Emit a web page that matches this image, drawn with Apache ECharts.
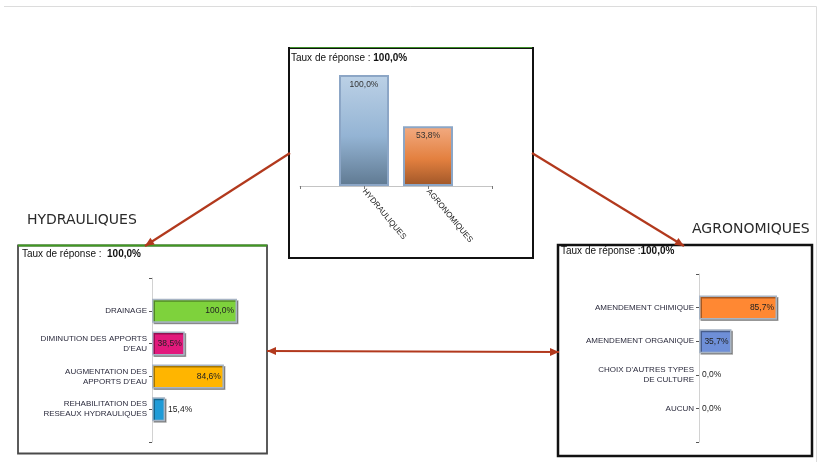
<!DOCTYPE html>
<html>
<head>
<meta charset="utf-8">
<script src="https://cdn.jsdelivr.net/npm/echarts@6/dist/echarts.min.js"></script>
<style>
  html, body { margin: 0; padding: 0; background: #fff; }
  #chart { width: 819px; height: 462px; }
</style>
</head>
<body>
<div id="chart"></div>
<script>
// données
const topCategories = ['HYDRAULIQUES', 'AGRONOMIQUES']
const topValues = [100.0, 53.8]
const hydroCategories = ['DRAINAGE', "DIMINUTION DES APPORTS\nD'EAU", "AUGMENTATION DES\nAPPORTS D'EAU", 'REHABILITATION DES\nRESEAUX HYDRAULIQUES']
const hydroValues = [100.0, 38.5, 84.6, 15.4]
const agroCategories = ['AMENDEMENT CHIMIQUE', 'AMENDEMENT ORGANIQUE', "CHOIX D'AUTRES TYPES\nDE CULTURE", 'AUCUN']
const agroValues = [85.7, 35.7, 0.0, 0.0]
const responseRate = '100,0%'

const hydroColors = ['#7ed23c', '#e2197c', '#ffb500', '#1f9bd7']
const agroColors = ['#ff8833', '#6e8fd8', '#999999', '#999999']
const arrowColor = '#b2391d'

const fmt = (v) => v.toFixed(1).replace('.', ',') + '%'
const pad = (arr) => ['', ...arr, '']

const chart = echarts.init(document.getElementById('chart'))

// barres verticales du haut (dégradé)
const topGradients = [
  ['#bcd1e6', '#94b4d4', '#5f7991'],
  ['#f2ab82', '#e3803f', '#9f5628']
]
const topData = ['-'].concat(topValues.map((v, i) => ({
  value: v,
  itemStyle: {
    color: new echarts.graphic.LinearGradient(0, 0, 0, 1, [
      { offset: 0, color: topGradients[i][0] },
      { offset: 0.55, color: topGradients[i][1] },
      { offset: 1, color: topGradients[i][2] }
    ]),
    borderColor: '#8ca6c6',
    borderWidth: 2
  }
}))).concat(['-'])

const barStyle = {
  borderColor: '#a7b4c4',
  borderWidth: 1.5,
  shadowColor: 'rgba(0,0,0,0.35)',
  shadowOffsetX: 1.5,
  shadowOffsetY: 1.5
}

const hbarData = (values, colors) => ['-'].concat(values.map((v, i) => ({
  value: v,
  itemStyle: v > 0 ? { color: colors[i] } : { color: 'transparent', borderWidth: 0, shadowColor: 'transparent' },
  label: { position: v < 20 ? 'right' : 'insideRight', distance: 3 }
}))).concat(['-'])

const hAxisY = (cats, idx) => ({
  type: 'category',
  gridIndex: idx,
  inverse: true,
  boundaryGap: false,
  data: pad(cats),
  axisLine: { lineStyle: { color: '#d2d2d2', width: 1 } },
  axisTick: { length: 3, lineStyle: { color: '#555' } },
  axisLabel: {
    interval: 0, fontSize: 8, lineHeight: 10, margin: 5,
    color: '#2a2a3c', fontFamily: 'Liberation Sans', align: 'right'
  }
})

// flèches
const arrow = (x1, y1, x2, y2, both) => {
  const a = Math.atan2(y2 - y1, x2 - x1)
  const head = (x, y, ang) => {
    const L = 9, W = 4
    const bx = x - L * Math.cos(ang), by = y - L * Math.sin(ang)
    return {
      type: 'polygon',
      shape: { points: [[x, y], [bx + W * Math.sin(ang), by - W * Math.cos(ang)], [bx - W * Math.sin(ang), by + W * Math.cos(ang)]] },
      style: { fill: arrowColor }
    }
  }
  const out = [{
    type: 'line',
    shape: { x1, y1, x2, y2 },
    style: { stroke: arrowColor, lineWidth: 2.2 }
  }, head(x2, y2, a)]
  if (both) out.push(head(x1, y1, a + Math.PI))
  return out
}

const titleRich = {
  a: { fontSize: 10, color: '#111', fontWeight: 'normal', fontFamily: 'Liberation Sans' },
  b: { fontSize: 10, color: '#111', fontWeight: 'bold', fontFamily: 'Liberation Sans' }
}
const titleStyle = { fontWeight: 'normal', rich: titleRich }

chart.setOption({
  animation: false,
  backgroundColor: '#fff',
  title: [
    { text: '{a|Taux de réponse : }{b|' + responseRate + '}', left: 291, top: 53, padding: 0, textStyle: titleStyle },
    { text: '{a|Taux de réponse :  }{b|' + responseRate + '}', left: 22, top: 249, padding: 0, textStyle: titleStyle },
    { text: '{a|Taux de réponse :}{b|' + responseRate + '}', left: 561, top: 246, padding: 0, textStyle: titleStyle },
    { text: 'HYDRAULIQUES', left: 27, top: 213, padding: 0, textStyle: { fontSize: 14, fontWeight: 'normal', color: '#2a2a2a', fontFamily: 'DejaVu Sans' } },
    { text: 'AGRONOMIQUES', left: 692, top: 222, padding: 0, textStyle: { fontSize: 14, fontWeight: 'normal', color: '#2a2a2a', fontFamily: 'DejaVu Sans' } }
  ],
  grid: [
    { left: 300, top: 75, width: 192, height: 111 },
    { left: 152, top: 278, width: 85, height: 164 },
    { left: 699, top: 274, width: 91, height: 168 }
  ],
  xAxis: [
    {
      type: 'category', gridIndex: 0, boundaryGap: false, data: pad(topCategories),
      axisLine: { lineStyle: { color: '#c4c4c4' } },
      axisTick: { length: 3, lineStyle: { color: '#777' } },
      axisLabel: { interval: 0, rotate: -50, fontSize: 8, margin: 4, color: '#222', fontFamily: 'Liberation Sans' }
    },
    { type: 'value', gridIndex: 1, min: 0, max: 100, show: false },
    { type: 'value', gridIndex: 2, min: 0, max: 100, show: false }
  ],
  yAxis: [
    { type: 'value', gridIndex: 0, min: 0, max: 100, show: false },
    hAxisY(hydroCategories, 1),
    hAxisY(agroCategories, 2)
  ],
  series: [
    {
      type: 'bar', xAxisIndex: 0, yAxisIndex: 0, barWidth: 50, data: topData,
      label: { show: true, position: 'insideTop', distance: 5, fontSize: 8.5, color: '#333', fontFamily: 'Liberation Sans', formatter: (p) => fmt(p.value) }
    },
    {
      type: 'bar', xAxisIndex: 1, yAxisIndex: 1, barWidth: 24, data: hbarData(hydroValues, hydroColors),
      itemStyle: barStyle,
      label: { show: true, fontSize: 8.5, color: '#222', fontFamily: 'Liberation Sans', formatter: (p) => fmt(p.value) }
    },
    {
      type: 'bar', xAxisIndex: 2, yAxisIndex: 2, barWidth: 24, data: hbarData(agroValues, agroColors),
      itemStyle: barStyle,
      label: { show: true, fontSize: 8.5, color: '#222', fontFamily: 'Liberation Sans', formatter: (p) => fmt(p.value) }
    }
  ],
  graphic: [
    // cadre extérieur
    { type: 'polyline', shape: { points: [[4, 6.5], [816.5, 6.5], [816.5, 462]] }, style: { stroke: '#dcdcdc', lineWidth: 1, fill: null } },
    // cadres des graphiques
    { type: 'rect', shape: { x: 289, y: 48, width: 244, height: 210 }, style: { fill: null, stroke: '#111', lineWidth: 2 } },
    { type: 'line', shape: { x1: 290, y1: 47.5, x2: 532, y2: 47.5 }, style: { stroke: '#3f8f2a', lineWidth: 1 } },
    { type: 'rect', shape: { x: 18, y: 245.5, width: 249, height: 208 }, style: { fill: null, stroke: '#4a4a4a', lineWidth: 1.8 } },
    { type: 'line', shape: { x1: 18, y1: 245.5, x2: 267, y2: 245.5 }, style: { stroke: '#3f9a20', lineWidth: 2 } },
    { type: 'rect', shape: { x: 558, y: 245, width: 254, height: 211 }, style: { fill: null, stroke: '#111', lineWidth: 2.5 } },
    ...arrow(290, 153, 145, 246, false),
    ...arrow(532, 153, 684, 246, false),
    ...arrow(267, 351, 559, 352, true)
  ]
})
</script>
</body>
</html>
